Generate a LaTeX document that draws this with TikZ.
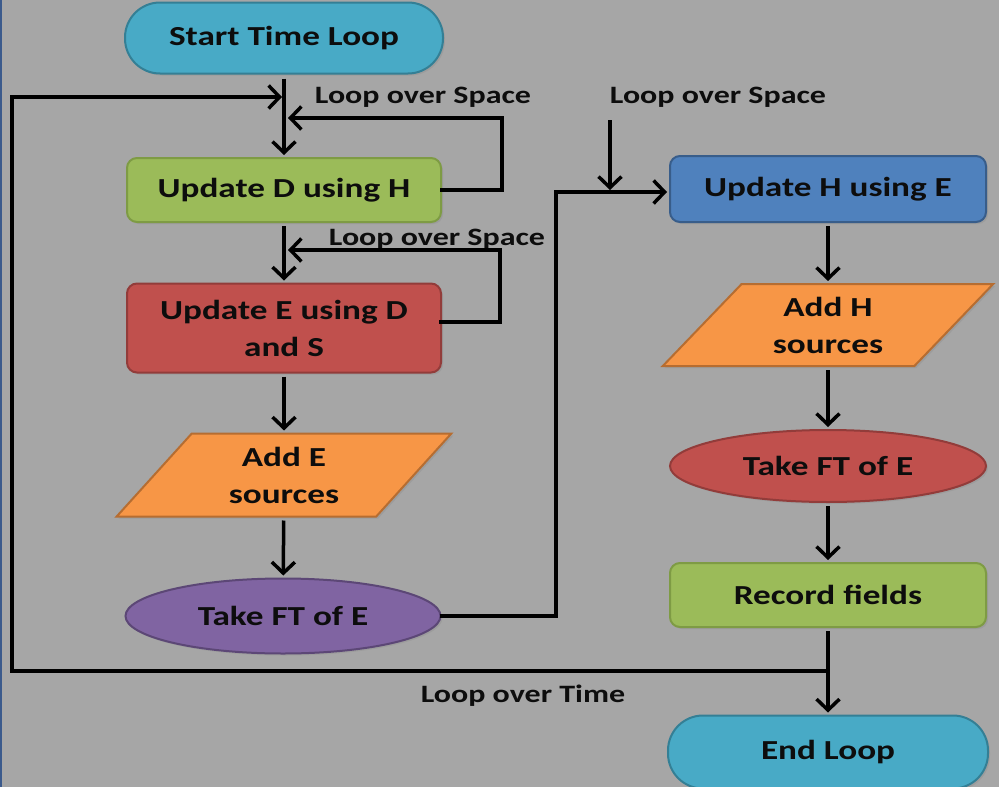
\documentclass[tikz,border=0pt]{standalone}
\usepackage{fontspec}
\setmainfont{Carlito}[FakeStretch=1.28]
\usetikzlibrary{arrows.meta,shapes.geometric,shadows}
\definecolor{bg}{HTML}{A6A6A6}
\definecolor{cyanF}{HTML}{48AAC6}\definecolor{cyanD}{HTML}{347F95}
\definecolor{grnF}{HTML}{9BBB59}\definecolor{grnD}{HTML}{7E9B44}
\definecolor{redF}{HTML}{C0504D}\definecolor{redD}{HTML}{923C3A}
\definecolor{orgF}{HTML}{F79646}\definecolor{orgD}{HTML}{B66D31}
\definecolor{purF}{HTML}{8064A2}\definecolor{purD}{HTML}{5C4776}
\definecolor{bluF}{HTML}{4F81BD}\definecolor{bluD}{HTML}{385D8A}
\definecolor{txt}{HTML}{0D0D0D}
\definecolor{strip}{HTML}{3B5A8C}
\tikzset{
  base/.style={line width=2pt, text=txt, font=\fontsize{27.5}{37}\selectfont\bfseries, align=center, inner sep=0pt,
    drop shadow={shadow xshift=2pt, shadow yshift=-2pt, opacity=0.25}},
  stadium/.style={base, rectangle, rounded corners=35pt, draw=cyanD, fill=cyanF},
  procbox/.style={base, rectangle, rounded corners=10pt},
  iobox/.style={base, trapezium, trapezium stretches=true, draw=orgD, fill=orgF},
  ovalbox/.style={base, ellipse},
  arr/.style={line width=3.5pt, draw=black, -{Straight Barb[length=11pt,width=23pt,line width=3.5pt]}, shorten >=2pt},
  lbl/.style={text=txt, font=\fontsize{25}{28}\selectfont\bfseries, inner sep=0pt}
}
\begin{document}
\begin{tikzpicture}[x=1pt,y=-1pt]
\fill[bg] (0,0) rectangle (999,787);
\fill[strip] (0,0) rectangle (2,787);
\useasboundingbox (0,0) rectangle (999,787);

% left column
\node[stadium, minimum width=318pt, minimum height=71pt] (start) at (284,38) {Start Time Loop};
\node[procbox, draw=grnD, fill=grnF, minimum width=314pt, minimum height=64pt] (upd) at (284,190) {Update D using H};
\node[procbox, draw=redD, fill=redF, minimum width=314pt, minimum height=89pt] (upe) at (284,328) {Update E using D\\and S};
\node[iobox, trapezium left angle=51.5, trapezium right angle=128.5, minimum width=335pt, minimum height=83pt] (adde) at (284,475) {Add E\\sources};
\node[ovalbox, draw=purD, fill=purF, minimum width=315pt, minimum height=75pt] (fte) at (283,616) {Take FT of E};

% right column
\node[procbox, draw=bluD, fill=bluF, minimum width=316pt, minimum height=66pt] (uph) at (828,189) {Update H using E};
\node[iobox, trapezium left angle=48.3, trapezium right angle=131.7, minimum width=331pt, minimum height=82pt] (addh) at (828,325) {Add H\\sources};
\node[ovalbox, draw=redD, fill=redF, minimum width=316pt, minimum height=72pt] (fth) at (828,466) {Take FT of E};
\node[procbox, draw=grnD, fill=grnF, minimum width=316pt, minimum height=64pt] (rec) at (828,595) {Record fields};
\node[stadium, minimum width=320pt, minimum height=73pt] (endl) at (828,752) {End Loop};

% labels
\node[lbl] (ls1) at (423,97) {Loop over Space};
\node[lbl] (ls2) at (437,239) {Loop over Space};
\node[lbl] (ls3) at (718,97) {Loop over Space};
\node[lbl] (lt) at (523,696) {Loop over Time};

% coordinates
\coordinate (tr) at (828,671);
\coordinate (tl) at (12,671);
\coordinate (tt) at (12,97);
\coordinate (tm) at (284,97);
\coordinate (s1b) at (502,118);
\coordinate (s1c) at (286,118);
\coordinate (s2a) at (441,322);
\coordinate (s2b) at (500,250);
\coordinate (s2c) at (286,250);
\coordinate (h1) at (556,192);
\coordinate (s3) at (610,120);

% vertical flow
\draw[arr, shorten <=4pt] (start) -- (upd);
\draw[arr, shorten <=3pt] (upd) -- (upe);
\draw[arr, shorten <=3pt] (upe) -- (adde);
\draw[arr, shorten <=3pt] (adde) -- (fte);
\draw[arr, shorten <=3pt] (uph) -- (addh);
\draw[arr, shorten <=3pt] (addh) -- (fth);
\draw[arr, shorten <=3pt] (fth) -- (rec);
\draw[arr, shorten <=3pt] (rec) -- (endl);

% loops
\draw[arr, line cap=rect] (tr) -- (tl) -- (tt) -- (tm);
\draw[arr, line cap=rect] (upd.east) -| (s1b) -- (s1c);
\draw[arr, line cap=rect] (s2a) -| (s2b) -- (s2c);
\draw[arr, line cap=rect] (fte.east) -| (h1) -- (h1 -| uph.west);
\draw[arr] (s3) -- (s3 |- h1);
\end{tikzpicture}
\end{document}
